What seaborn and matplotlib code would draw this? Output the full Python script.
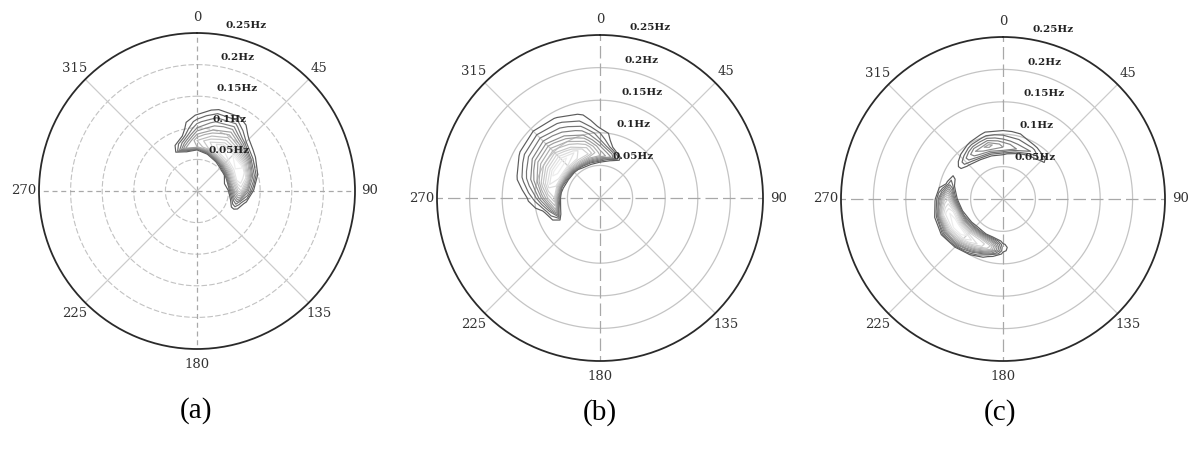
import numpy as np
import matplotlib
matplotlib.use("Agg")
import matplotlib.pyplot as plt
import seaborn as sns
from matplotlib.colors import Normalize

sns.set_style("white")
plt.rcParams['font.family'] = ['DejaVu Serif']

# ---------------- data ----------------
angle_ticks = [0, 45, 90, 135, 180, 225, 270, 315]
ring_freqs = [0.05, 0.10, 0.15, 0.20, 0.25]
ring_labels = ["0.05Hz", "0.1Hz", "0.15Hz", "0.2Hz", "0.25Hz"]
panel_labels = ["(a)", "(b)", "(c)"]
contour_levels = list(range(1, 14))

# frequency rows (Hz) for panels a and b
freq_ab = [0.04, 0.05, 0.055, 0.06, 0.065, 0.07, 0.08, 0.09, 0.10, 0.11, 0.12, 0.13, 0.14, 0.15, 0.16]

# panel (a): directions (deg) and spectral density per direction (one list per direction, over freq_ab)
dirs_a = [-45, -30, -15, 0, 15, 30, 45, 60, 75, 90, 105, 120, 135]
spec_a = [
    [0, 0, 0, 0, 0, 0, 0, 0, 0, 0, 0, 0, 0, 0, 0],
    [0, 0, 0, 0, 0, 0.5, 0, 0, 0, 0, 0, 0, 0, 0, 0],
    [0, 0, 0, 0, 1.2, 6, 3.5, 1.0, 0, 0, 0, 0, 0, 0, 0],
    [0, 0, 0, 0, 1.0, 7, 8, 6, 4, 2.5, 1.1, 0, 0, 0, 0],
    [0, 0, 0, 0.5, 5, 9, 10, 8, 6, 4.5, 3, 1.5, 0, 0, 0],
    [0, 0, 0.5, 5, 9, 11, 12, 9.5, 7.5, 5.5, 3.5, 1.8, 0.3, 0, 0],
    [0, 0, 3, 7, 10, 12, 13, 9, 5.5, 2, 0.4, 0, 0, 0, 0],
    [0, 1, 5, 8, 11, 13, 13.5, 8, 2.5, 0.3, 0, 0, 0, 0, 0],
    [0, 2, 6, 9, 12, 13, 11, 4.5, 0.8, 0, 0, 0, 0, 0, 0],
    [0, 1, 4, 7, 9, 10, 4.5, 0.6, 0, 0, 0, 0, 0, 0, 0],
    [0, 0, 1, 3, 4, 2.5, 0.3, 0, 0, 0, 0, 0, 0, 0, 0],
    [0, 0, 0, 0, 0, 0, 0, 0, 0, 0, 0, 0, 0, 0, 0],
    [0, 0, 0, 0, 0, 0, 0, 0, 0, 0, 0, 0, 0, 0, 0],
]

# panel (b)
dirs_b = [-135, -120, -105, -90, -75, -60, -45, -30, -15, 0, 15, 30, 45]
spec_b = [
    [0, 0, 0, 0, 0, 0, 0, 0, 0, 0, 0, 0, 0, 0, 0],
    [0, 0, 0, 0, 0, 0.5, 0, 0, 0, 0, 0, 0, 0, 0, 0],
    [0, 0, 0, 0, 2, 7, 3, 0.3, 0, 0, 0, 0, 0, 0, 0],
    [0, 0, 0, 0.5, 5, 10, 8, 5, 2.5, 1.2, 0, 0, 0, 0, 0],
    [0, 0, 0, 1.5, 7, 11, 12, 9, 6, 4, 2.5, 1.2, 0, 0, 0],
    [0, 0, 0.3, 4, 9, 12.5, 13.5, 10.5, 8, 6, 4, 2.5, 1.2, 0, 0],
    [0, 0, 0.5, 5, 9, 12, 13.5, 11, 8.5, 6.5, 4.5, 3, 1.6, 0.4, 0],
    [0, 0, 1.5, 6, 9, 11, 12, 9, 7, 5, 3.5, 2.2, 1.1, 0, 0],
    [0, 0, 1.5, 5, 8, 10, 9, 7, 5, 3.5, 2.2, 1.3, 0.3, 0, 0],
    [0, 0, 1, 4, 7, 6.5, 5, 3, 2, 0.6, 0, 0, 0, 0, 0],
    [0, 0, 0, 1.2, 5, 4, 0.8, 0, 0, 0, 0, 0, 0, 0, 0],
    [0, 0, 0, 0, 0, 0, 0, 0, 0, 0, 0, 0, 0, 0, 0],
    [0, 0, 0, 0, 0, 0, 0, 0, 0, 0, 0, 0, 0, 0, 0],
]

# panel (c): finer frequency rows
freq_c = [0.04, 0.05, 0.055, 0.06, 0.065, 0.07, 0.075, 0.08, 0.085, 0.09, 0.095, 0.10, 0.105, 0.11, 0.115, 0.12]
dirs_c = [165, 180, 195, 210, 225, 240, 255, 270, 285, 300, 315, 330, 345, 360, 375, 390, 405, 420]
spec_c = [
    [0, 0, 0, 0, 0, 0, 0, 0, 0, 0, 0, 0, 0, 0, 0, 0],
    [0, 0, 0, 0, 0.3, 1.2, 1.5, 1.3, 0.5, 0, 0, 0, 0, 0, 0, 0],
    [0, 0, 0, 0.5, 4, 7, 9, 8.5, 5, 1.5, 0.3, 0, 0, 0, 0, 0],
    [0, 0, 0, 1.2, 5, 9, 11, 11, 9, 6, 3, 0.8, 0, 0, 0, 0],
    [0, 0, 0, 1.5, 5, 8, 11, 13, 12.5, 10, 7, 4, 1.0, 0, 0, 0],
    [0, 0, 0, 0.6, 3, 6.5, 10, 13.5, 14, 12.5, 10, 7, 3.5, 1.0, 0, 0],
    [0, 0, 0, 0, 0.8, 5, 10, 12.5, 13, 12.5, 11, 7, 2.5, 0.7, 0, 0],
    [0, 0, 0, 0, 0, 0.7, 3.5, 7.5, 10, 9, 6, 3, 0.8, 0, 0, 0],
    [0, 0, 0, 0, 0, 0, 0, 2, 3, 1.2, 0, 0, 0, 0, 0, 0],
    [0, 0, 0, 0, 0, 0, 0, 0, 0, 0, 0, 0, 0, 0, 0, 0],
    [0, 0, 0, 0, 0, 0, 1.2, 2.5, 2.5, 1.5, 0.8, 0, 0, 0, 0, 0],
    [0, 0, 0, 0, 0, 1, 3, 4.5, 5, 4, 2.5, 1.3, 0.3, 0, 0, 0],
    [0, 0, 0, 0, 0, 1.3, 3.5, 5.5, 6.5, 5, 3.5, 2.2, 1.3, 0.5, 0, 0],
    [0, 0, 0, 0, 0, 1.5, 4, 5, 4.5, 3.5, 2.5, 1.8, 1.1, 0.3, 0, 0],
    [0, 0, 0, 0, 0, 0, 2, 4, 3.5, 2.5, 2, 1.4, 0.9, 0, 0, 0],
    [0, 0, 0, 0, 0, 0, 0, 1.8, 3, 2.2, 1.2, 0.3, 0, 0, 0, 0],
    [0, 0, 0, 0, 0, 0, 0, 0.5, 1.3, 1.1, 0.4, 0, 0, 0, 0, 0],
    [0, 0, 0, 0, 0, 0, 0, 0, 0, 0, 0, 0, 0, 0, 0, 0],
]

panels = [
    (dirs_a, freq_ab, spec_a),
    (dirs_b, freq_ab, spec_b),
    (dirs_c, freq_c, spec_c),
]

# ---------------- layout ----------------
W, H = 1193, 459
centers = [(197, 191, 158), (600, 198, 163), (1003, 199, 162)]
ring_style = ["dashed", "solid", "solid"]
axis_dash = [(0, (4, 3)), (0, (10, 4)), (0, (10, 4))]
label_xy = [(196, 411), (600, 413), (1000, 413)]
# radial-label offsets in units of plot radius
rl_dx = [0.20, 0.205, 0.255, 0.255, 0.31]
rl_dy = [0.255, 0.453, 0.65, 0.845, 1.047]

fig = plt.figure(figsize=(W / 100, H / 100), dpi=100)
fig.patch.set_facecolor("white")

grey_cmap = sns.color_palette("Greys_r", as_cmap=True)
norm = Normalize(vmin=-5, vmax=16)
rmax = 0.25

for i, (dirs, freqs, spec) in enumerate(panels):
    cx, cy, R = centers[i]
    ax = fig.add_axes([(cx - R) / W, (H - cy - R) / H, 2 * R / W, 2 * R / H],
                      projection="polar")
    ax.set_theta_zero_location("N")
    ax.set_theta_direction(-1)
    ax.set_ylim(0, rmax)
    ax.set_xticks([])
    ax.set_yticks([])
    ax.grid(False)
    ax.set_facecolor("white")
    ax.spines["polar"].set_color("#2a2a2a")
    ax.spines["polar"].set_linewidth(1.3)

    # rings
    tt = np.linspace(0, 2 * np.pi, 361)
    for rf in ring_freqs[:-1]:
        if ring_style[i] == "dashed":
            ax.plot(tt, np.full_like(tt, rf), color="#c2c2c2", lw=0.8,
                    linestyle=(0, (5, 2)), zorder=1)
        else:
            ax.plot(tt, np.full_like(tt, rf), color="#c4c4c4", lw=0.9, zorder=1)
    # spokes
    for a in angle_ticks:
        th = np.deg2rad(a)
        if a % 90 == 0:
            ax.plot([th, th], [0, rmax], color="#a8a8a8", lw=0.9,
                    linestyle=axis_dash[i], zorder=1)
        else:
            ax.plot([th, th], [0, rmax], color="#cccccc", lw=0.9, zorder=1)

    # spectrum contours
    Z = np.array(spec, dtype=float).T
    ax.contour(np.deg2rad(np.array(dirs, dtype=float)), np.array(freqs), Z,
               levels=contour_levels, cmap=grey_cmap, norm=norm,
               linewidths=0.85, zorder=3)

    # angle labels
    for a in angle_ticks:
        ax.text(np.deg2rad(a), rmax * 1.095, str(a), ha="center", va="center",
                fontsize=9.5, color="#333333", family="DejaVu Serif")
    # frequency labels
    for lab, dx, dy in zip(ring_labels, rl_dx, rl_dy):
        ax.text(0.5 + dx / 2, 0.5 + dy / 2, lab, transform=ax.transAxes,
                ha="center", va="center", fontsize=7.5, fontweight="bold",
                color="#222222", family="DejaVu Serif", zorder=5)

for lab, (lx, ly) in zip(panel_labels, label_xy):
    fig.text(lx / W, 1 - ly / H, lab, ha="center", va="center",
             fontsize=21, family="Liberation Serif", color="black")

fig.savefig("out.png", dpi=100, facecolor="white")
